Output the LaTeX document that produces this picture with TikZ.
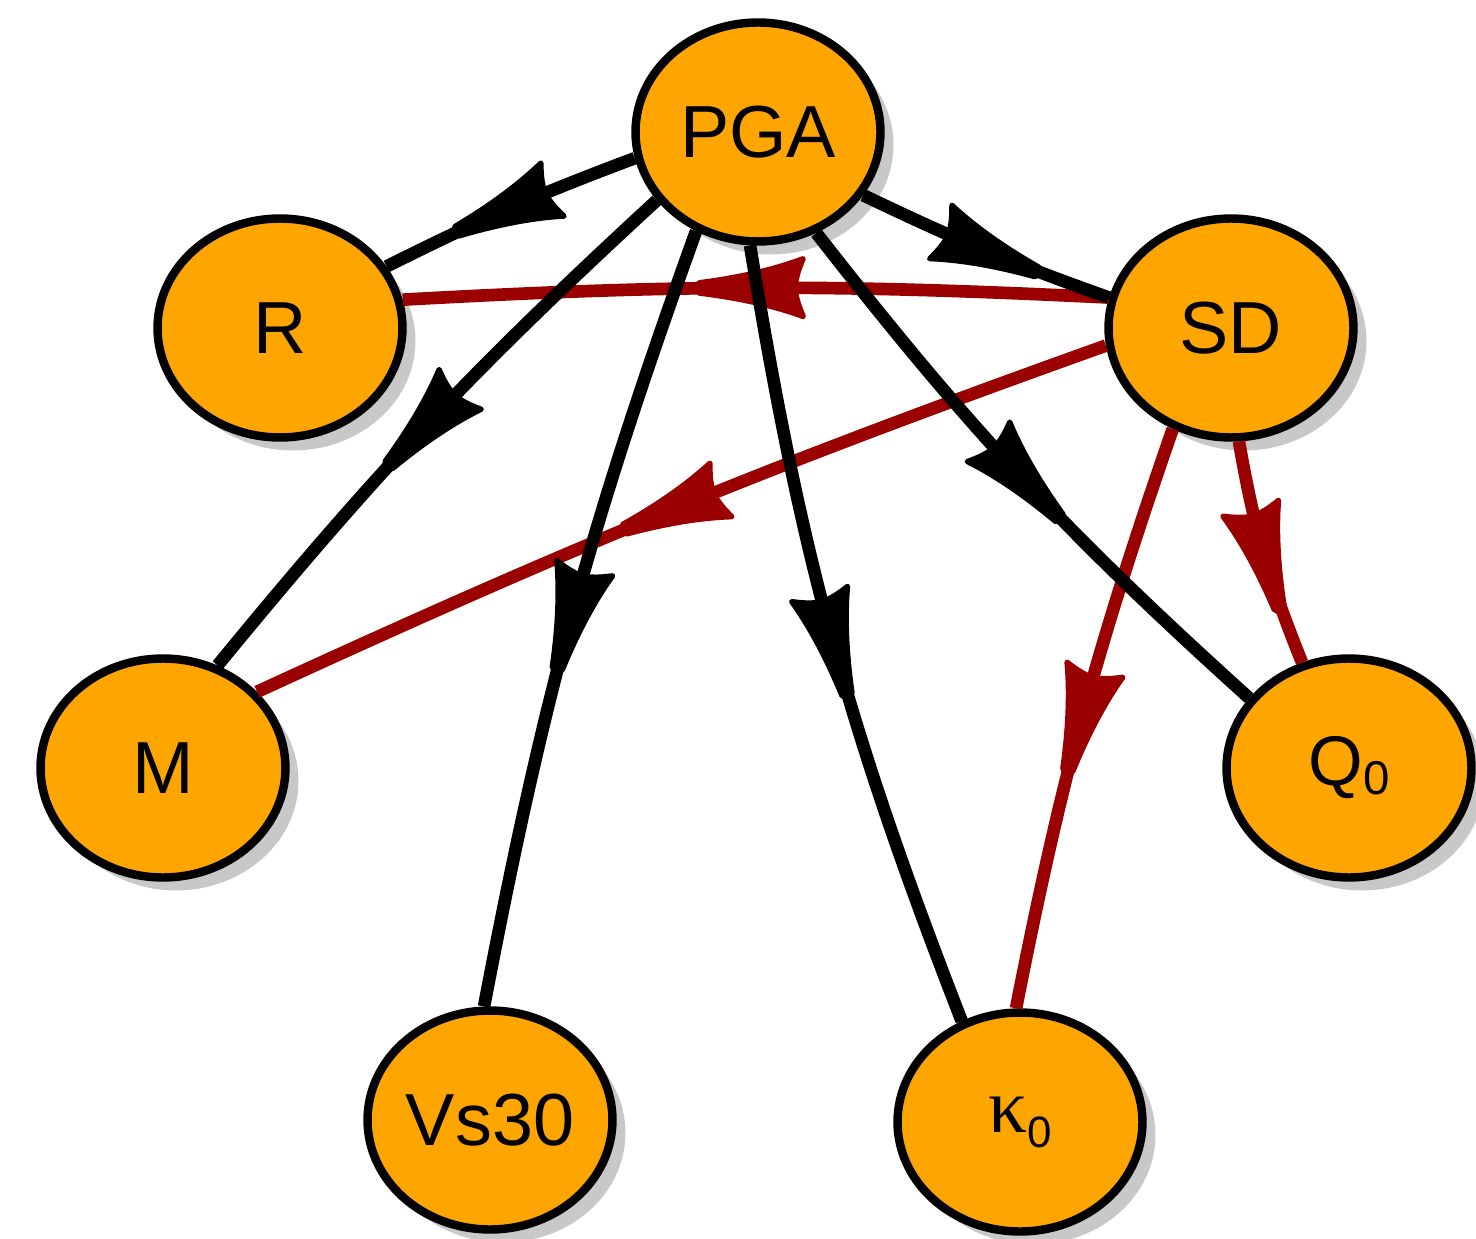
\documentclass[tikz,border=0pt]{standalone}
\usepackage{fontspec}
\setmainfont{Liberation Sans}
\newfontfamily\greekserif{Liberation Serif}
\usetikzlibrary{shapes.geometric,shadows,decorations.markings}
\definecolor{nodeorange}{RGB}{255,165,0}
\definecolor{edgered}{RGB}{155,0,0}
\definecolor{shadowgray}{RGB}{200,200,200}
\newcommand\flarehead[1]{%
  \filldraw[#1,line width=3pt,line join=round]
    (-22pt,0) .. controls (-24pt,9pt) .. (-27pt,16.5pt)
    .. controls (-15pt,12pt) and (4pt,6.5pt) .. (32pt,3pt) -- (35pt,0) -- (32pt,-3pt)
    .. controls (4pt,-6.5pt) and (-15pt,-12pt) .. (-27pt,-16.5pt)
    .. controls (-24pt,-9pt) .. (-22pt,0) -- cycle;}
\tikzset{
  varnode/.style={ellipse, draw=black, line width=4.8pt, fill=nodeorange,
    minimum width=4.9cm, minimum height=4.38cm, inner sep=0pt,
    font=\fontsize{42}{48}\selectfont,
    drop shadow={shadow xshift=0.26cm, shadow yshift=-0.26cm, fill=shadowgray, opacity=1}},
  blackedge/.style={draw=black, line width=7.2pt,
    postaction={decorate, decoration={markings, mark=at position 0.5 with {\flarehead{black}}}}},
  rededge/.style={draw=edgered, line width=7.2pt,
    postaction={decorate, decoration={markings, mark=at position 0.5 with {\flarehead{edgered}}}}}
}
\begin{document}
\begin{tikzpicture}[x=0.02cm,y=0.02cm]
\useasboundingbox (0,0) rectangle (1476,-1239);
\node[varnode] (PGA) at (758,-132) {PGA};
\node[varnode] (R) at (280,-328) {R};
\node[varnode] (SD) at (1231,-328) {SD};
\node[varnode] (M) at (163,-768) {M};
\node[varnode] (Q0) at (1349,-768) {\fontsize{40}{46}\selectfont Q\raisebox{-5pt}{\fontsize{27}{29}\selectfont 0}};
\node[varnode] (V) at (490,-1120) {Vs30};
\node[varnode] (K0) at (1020,-1122) {\fontsize{44}{50}\selectfont{\greekserif κ}\raisebox{-8.5pt}{\fontsize{25}{27}\selectfont 0}};
% red edges
\draw[rededge] (SD.166) to[bend right=3] (R.13);
\draw[rededge] (SD.188) to[bend right=2.5] (M.39);
\draw[rededge] (SD.-86) to[bend right=6] (Q0.114);
\draw[rededge] (SD.240) to[bend right=4] (K0.92);
% black edges
\draw[blackedge] (PGA.192) to[bend right=3] (R.30);
\draw[blackedge] (PGA.-31) to[bend right=3] (SD.166);
\draw[blackedge] (PGA.214) to[bend right=4] (M.62);
\draw[blackedge] (PGA.238) to[bend right=4.5] (V.93);
\draw[blackedge] (PGA.-94) to[bend right=6] (K0.120);
\draw[blackedge] (PGA.-60) to[bend right=5] (Q0.145);
\end{tikzpicture}
\end{document}
